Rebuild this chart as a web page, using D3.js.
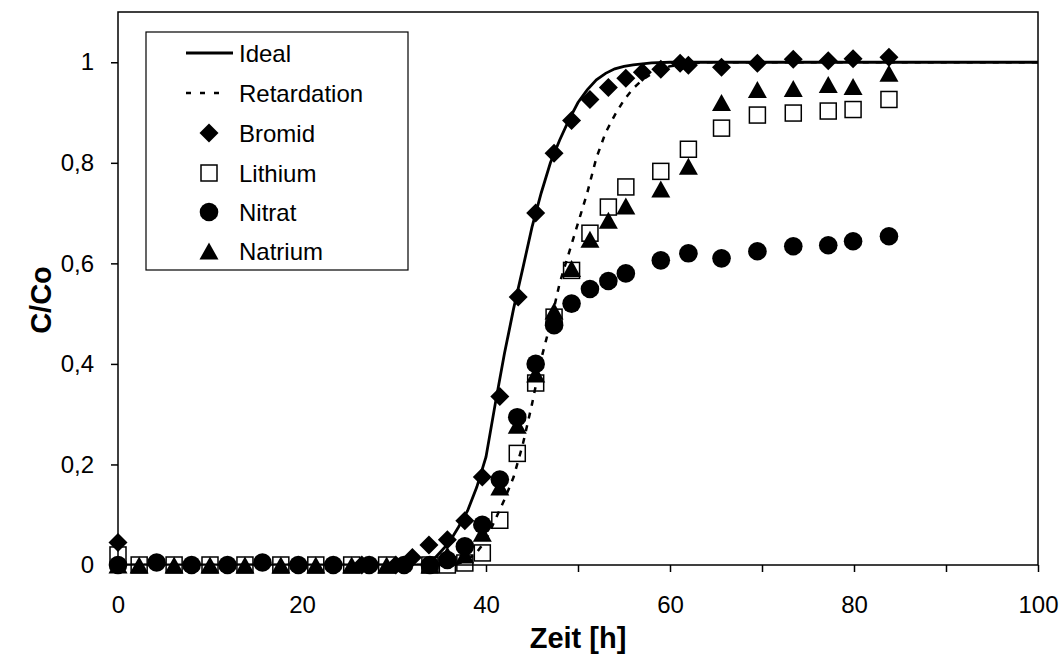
<!DOCTYPE html>
<html>
<head>
<meta charset="utf-8">
<script src="https://cdn.jsdelivr.net/npm/d3@7"></script>
<style>
  html, body { margin: 0; padding: 0; background: #fff; }
  svg { display: block; font-family: Arial, "Liberation Sans", sans-serif; }
</style>
</head>
<body>
<svg id="chart" width="1063" height="657"></svg>
<script>
// ---------- DATA ----------
const idealX = [0, 33, 34, 35, 36, 37, 38, 39, 40, 41, 42, 43, 44, 45, 46, 47, 48, 49, 50, 51, 52, 53, 54, 55, 56, 57, 58, 60, 100];
const idealY = [0, 0, 0.005, 0.025, 0.045, 0.075, 0.108, 0.155, 0.215, 0.32, 0.42, 0.51, 0.59, 0.672, 0.74, 0.80, 0.845, 0.885, 0.92, 0.945, 0.965, 0.978, 0.987, 0.992, 0.995, 0.997, 0.999, 1.0, 1.0];

const retardX = [0, 36, 37, 38, 39, 40, 41, 42, 43, 44, 45, 46, 47, 48, 49, 50, 51, 52, 53, 54, 55, 56, 57, 58, 59, 60, 62, 64, 100];
const retardY = [0, 0, 0.003, 0.01, 0.025, 0.05, 0.09, 0.13, 0.175, 0.24, 0.32, 0.41, 0.48, 0.56, 0.62, 0.68, 0.74, 0.81, 0.86, 0.895, 0.925, 0.948, 0.965, 0.977, 0.986, 0.992, 0.997, 1.0, 1.0];

const bromidX = [0, 26.5, 30.2, 32.0, 33.8, 35.8, 37.7, 39.6, 41.5, 43.5, 45.4, 47.4, 49.3, 51.3, 53.3, 55.2, 57.0, 59.0, 61.1, 62.0, 65.6, 69.5, 73.4, 77.2, 79.9, 83.8];
const bromidY = [0.045, 0, 0, 0.015, 0.04, 0.05, 0.088, 0.175, 0.335, 0.533, 0.70, 0.819, 0.884, 0.926, 0.95, 0.968, 0.98, 0.986, 0.998, 0.994, 0.99, 0.998, 1.006, 1.003, 1.007, 1.01];

const lithiumX = [0, 2.3, 6.1, 10.0, 13.8, 17.7, 21.5, 25.4, 29.2, 33.9, 35.8, 37.7, 39.6, 41.5, 43.4, 45.4, 47.4, 49.3, 51.3, 53.3, 55.2, 59.0, 62.0, 65.6, 69.5, 73.4, 77.2, 79.9, 83.8];
const lithiumY = [0.02, 0, 0, 0, 0, 0, 0, 0, 0, 0, 0, 0.004, 0.024, 0.089, 0.222, 0.362, 0.493, 0.586, 0.66, 0.712, 0.752, 0.783, 0.827, 0.869, 0.895, 0.899, 0.903, 0.906, 0.926];

const nitratX = [0, 4.2, 8.0, 11.9, 15.7, 19.6, 23.4, 27.3, 31.1, 33.9, 35.8, 37.7, 39.6, 41.5, 43.4, 45.4, 47.4, 49.3, 51.3, 53.3, 55.2, 59.0, 62.0, 65.6, 69.5, 73.4, 77.2, 79.9, 83.8];
const nitratY = [0, 0.005, 0, 0, 0.005, 0, 0, 0, 0, 0, 0.01, 0.037, 0.08, 0.17, 0.294, 0.40, 0.477, 0.52, 0.549, 0.565, 0.58, 0.606, 0.62, 0.61, 0.624, 0.634, 0.636, 0.644, 0.654];

const natriumX = [0, 2.3, 6.1, 10.0, 13.8, 17.7, 21.5, 25.4, 29.2, 33.9, 35.8, 37.7, 39.6, 41.5, 43.4, 45.4, 47.4, 49.3, 51.3, 53.3, 55.2, 59.0, 62.0, 65.6, 69.5, 73.4, 77.2, 79.9, 83.8];
const natriumY = [0, 0, 0, 0, 0, 0, 0, 0, 0, 0, 0.02, 0.02, 0.063, 0.155, 0.278, 0.38, 0.505, 0.59, 0.648, 0.686, 0.714, 0.748, 0.793, 0.92, 0.946, 0.948, 0.956, 0.952, 0.978];

const xTicks = [0, 20, 40, 60, 80, 100];
const xMinorTicks = [10, 30, 50, 70, 90];
const yTicks = [0, 0.2, 0.4, 0.6, 0.8, 1];
const legendLabels = ["Ideal", "Retardation", "Bromid", "Lithium", "Nitrat", "Natrium"];
const xTitle = "Zeit [h]";
const yTitle = "C/Co";

// ---------- LAYOUT ----------
const W = 1063, H = 657;
const L = 118, R = 1038, T = 12, B = 565;
const svg = d3.select("#chart");

const x = d3.scaleLinear().domain([0, 100]).range([L, R]);
const y = d3.scaleLinear().domain([0, 1.1]).range([B, T]);

const fmt = d => (d === 0 ? "0" : d3.format("~g")(d).replace(".", ","));

// plot frame
svg.append("rect")
  .attr("x", L).attr("y", T).attr("width", R - L).attr("height", B - T)
  .attr("fill", "none").attr("stroke", "#000").attr("stroke-width", 1.5);

// x axis
const xAxis = svg.append("g").attr("transform", `translate(0,${B})`)
  .call(d3.axisBottom(x).tickValues(xTicks).tickFormat(d => d).tickSize(7).tickPadding(24));
xAxis.select(".domain").remove();
const xAxisMinor = svg.append("g").attr("transform", `translate(0,${B})`)
  .call(d3.axisBottom(x).tickValues(xMinorTicks).tickFormat("").tickSize(7));
xAxisMinor.select(".domain").remove();

// y axis
const yAxis = svg.append("g").attr("transform", `translate(${L},0)`)
  .call(d3.axisLeft(y).tickValues(yTicks).tickFormat(fmt).tickSize(7).tickPadding(17));
yAxis.select(".domain").remove();

svg.selectAll(".tick line").attr("stroke", "#000").attr("stroke-width", 1.5);
svg.selectAll(".tick text")
  .attr("font-family", "Arial, 'Liberation Sans', sans-serif")
  .attr("font-size", 24).attr("fill", "#000");

// axis titles
svg.append("text")
  .attr("x", (L + R) / 2).attr("y", 648)
  .attr("text-anchor", "middle")
  .attr("font-size", 29).attr("font-weight", "bold")
  .text(xTitle);
svg.append("text")
  .attr("transform", `translate(51,300) rotate(-90)`)
  .attr("text-anchor", "middle")
  .attr("font-size", 29).attr("font-weight", "bold")
  .text(yTitle);

// ---------- LINES ----------
svg.append("clipPath").attr("id", "plotclip")
  .append("rect").attr("x", L).attr("y", T).attr("width", R - L).attr("height", B - T);

const line = d3.line().x(d => x(d[0])).y(d => y(d[1]));
const plot = svg.append("g").attr("clip-path", "url(#plotclip)");

plot.append("path")
  .datum(idealX.map((v, i) => [v, idealY[i]]))
  .attr("d", line).attr("fill", "none").attr("stroke", "#000").attr("stroke-width", 2.8);

plot.append("path")
  .datum(retardX.map((v, i) => [v, retardY[i]]))
  .attr("d", line).attr("fill", "none").attr("stroke", "#000").attr("stroke-width", 2.5)
  .attr("stroke-dasharray", "6,7");

// ---------- MARKERS ----------
function marker(g, type, cx, cy) {
  if (type === "diamond") {
    const s = 9.5;
    g.append("path").attr("d", `M${cx},${cy - s}L${cx + s},${cy}L${cx},${cy + s}L${cx - s},${cy}Z`).attr("fill", "#000");
  } else if (type === "square") {
    const s = 8;
    g.append("rect").attr("x", cx - s).attr("y", cy - s).attr("width", 2 * s).attr("height", 2 * s)
      .attr("fill", "none").attr("stroke", "#000").attr("stroke-width", 1.5);
  } else if (type === "circle") {
    g.append("circle").attr("cx", cx).attr("cy", cy).attr("r", 9.3).attr("fill", "#000");
  } else if (type === "triangle") {
    const w = 9.5, h = 8.5;
    g.append("path").attr("d", `M${cx},${cy - h}L${cx + w},${cy + h}L${cx - w},${cy + h}Z`).attr("fill", "#000");
  }
}

const markerSeries = [
  { xs: bromidX, ys: bromidY, type: "diamond" },
  { xs: lithiumX, ys: lithiumY, type: "square" },
  { xs: nitratX, ys: nitratY, type: "circle" },
  { xs: natriumX, ys: natriumY, type: "triangle" }
];
const mg = svg.append("g");
markerSeries.forEach(s => {
  s.xs.forEach((v, i) => marker(mg, s.type, x(v), y(s.ys[i])));
});

// ---------- LEGEND ----------
const lg = svg.append("g");
lg.append("rect").attr("x", 146).attr("y", 32).attr("width", 262).attr("height", 238)
  .attr("fill", "#fff").attr("stroke", "#000").attr("stroke-width", 1.2);
const rowY = [53, 93, 133, 173, 212, 251];
const types = ["solid", "dash", "diamond", "square", "circle", "triangle"];
legendLabels.forEach((lab, i) => {
  const cy = rowY[i];
  if (types[i] === "solid") {
    lg.append("line").attr("x1", 186).attr("x2", 233).attr("y1", cy).attr("y2", cy)
      .attr("stroke", "#000").attr("stroke-width", 2.8);
  } else if (types[i] === "dash") {
    lg.append("line").attr("x1", 186).attr("x2", 220).attr("y1", cy).attr("y2", cy)
      .attr("stroke", "#000").attr("stroke-width", 2.5).attr("stroke-dasharray", "5,9");
  } else {
    marker(lg, types[i], 209, cy);
  }
  lg.append("text").attr("x", 239).attr("y", cy + 9)
    .attr("font-size", 24).attr("fill", "#000").text(lab);
});
</script>
</body>
</html>
